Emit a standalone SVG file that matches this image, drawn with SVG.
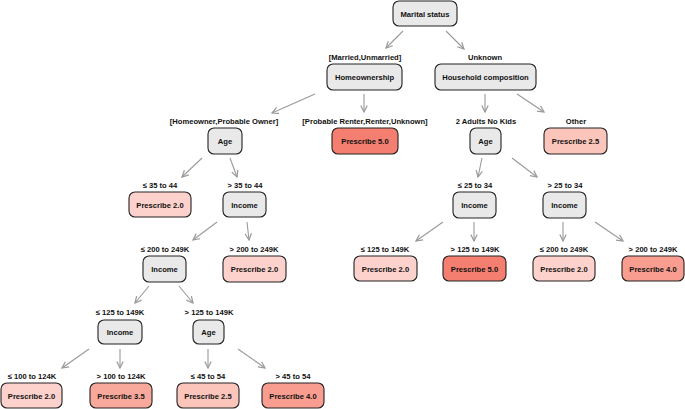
<svg xmlns="http://www.w3.org/2000/svg" width="685" height="409" viewBox="0 0 685 409">
<defs>
<marker id="ah" viewBox="0 0 10 10" refX="9" refY="5" markerWidth="8" markerHeight="8" markerUnits="userSpaceOnUse" orient="auto">
<path d="M1,1 L9,5 L1,9" fill="none" stroke="#999" stroke-width="1.5"/>
</marker>
<style>
rect{stroke:#222;stroke-width:1.1}
.g{fill:#e9e9e9}
.p20{fill:#fdd2cc}
.p25{fill:#fcc5bc}
.p35{fill:#f9a99b}
.p40{fill:#f89d8f}
.p50{fill:#f47e6f}
text{font-family:"Liberation Sans",Arial,sans-serif;font-weight:bold;font-size:7.6px;fill:#111;text-anchor:middle}
.e line{stroke:#999;stroke-width:1.1;marker-end:url(#ah)}
</style>
</defs>
<rect width="685" height="409" fill="#fff" style="stroke:none"/>
<g class="e" id="edges">
<line x1="403" y1="31" x2="386" y2="48"/>
<line x1="446" y1="31" x2="464" y2="49"/>
<line x1="315" y1="94" x2="272" y2="113"/>
<line x1="364" y1="94" x2="364" y2="112"/>
<line x1="485" y1="94" x2="485" y2="112"/>
<line x1="517" y1="94" x2="544" y2="112"/>
<line x1="202" y1="158" x2="182" y2="177"/>
<line x1="230" y1="158" x2="237" y2="177"/>
<line x1="217" y1="222" x2="193" y2="240"/>
<line x1="247" y1="222" x2="249" y2="240"/>
<line x1="149" y1="286" x2="135" y2="303"/>
<line x1="179" y1="286" x2="193" y2="303"/>
<line x1="89" y1="349" x2="62" y2="368"/>
<line x1="120" y1="349" x2="120" y2="368"/>
<line x1="208" y1="349" x2="208" y2="368"/>
<line x1="238" y1="349" x2="265" y2="368"/>
<line x1="482" y1="158" x2="478" y2="177"/>
<line x1="512" y1="158" x2="537" y2="177"/>
<line x1="443" y1="222" x2="416" y2="241"/>
<line x1="474" y1="222" x2="474" y2="241"/>
<line x1="563" y1="222" x2="563" y2="241"/>
<line x1="595" y1="222" x2="623" y2="241"/>
</g>
<g id="n_marital"><rect class="g" x="393" y="1" width="64" height="25" rx="6"/><text x="425" y="16.5">Marital status</text></g>
<g id="n_home"><text x="365" y="60">[Married,Unmarried]</text><rect class="g" x="327" y="64" width="75" height="26" rx="6"/><text x="364.5" y="80">Homeownership</text></g>
<g id="n_house"><text x="485" y="60">Unknown</text><rect class="g" x="435" y="64" width="101" height="26" rx="6"/><text x="485.5" y="80">Household composition</text></g>
<g id="n_p50a"><text x="365" y="124">[Probable Renter,Renter,Unknown]</text><rect class="p50" x="332" y="128" width="66" height="26" rx="6"/><text x="365" y="144">Prescribe 5.0</text></g>
<g id="n_age_r"><text x="486" y="124">2 Adults No Kids</text><rect class="g" x="470" y="128" width="31" height="26" rx="6"/><text x="485.5" y="144">Age</text></g>
<g id="n_p25a"><text x="576" y="124">Other</text><rect class="p25" x="544" y="128" width="63" height="26" rx="6"/><text x="575.5" y="144">Prescribe 2.5</text></g>
<g id="n_age_l"><text x="224" y="124">[Homeowner,Probable Owner]</text><rect class="g" x="208" y="128" width="34" height="26" rx="6"/><text x="225" y="144">Age</text></g>
<g id="n_p20a"><text x="160" y="188">≤ 35 to 44</text><rect class="p20" x="129" y="192" width="62" height="25" rx="6"/><text x="160" y="207.5">Prescribe 2.0</text></g>
<g id="n_inc1"><text x="245" y="188">&gt; 35 to 44</text><rect class="g" x="223" y="192" width="43" height="25" rx="6"/><text x="244.5" y="207.5">Income</text></g>
<g id="n_inc2"><text x="165" y="252">≤ 200 to 249K</text><rect class="g" x="143" y="256" width="43" height="26" rx="6"/><text x="164.5" y="272">Income</text></g>
<g id="n_p20b"><text x="254" y="252">&gt; 200 to 249K</text><rect class="p20" x="223" y="256" width="63" height="26" rx="6"/><text x="254.5" y="272">Prescribe 2.0</text></g>
<g id="n_inc3"><text x="120" y="315">≤ 125 to 149K</text><rect class="g" x="98" y="320" width="44" height="24" rx="6"/><text x="120" y="335">Income</text></g>
<g id="n_age3"><text x="209" y="315">&gt; 125 to 149K</text><rect class="g" x="193" y="320" width="31" height="24" rx="6"/><text x="208.5" y="335">Age</text></g>
<g id="n_p20c"><text x="32" y="379">≤ 100 to 124K</text><rect class="p20" x="1" y="383" width="61" height="25" rx="6"/><text x="31.5" y="398.5">Prescribe 2.0</text></g>
<g id="n_p35"><text x="121" y="379">&gt; 100 to 124K</text><rect class="p35" x="90" y="383" width="62" height="25" rx="6"/><text x="121" y="398.5">Prescribe 3.5</text></g>
<g id="n_p25b"><text x="208" y="379">≤ 45 to 54</text><rect class="p25" x="177" y="383" width="62" height="25" rx="6"/><text x="208" y="398.5">Prescribe 2.5</text></g>
<g id="n_p40a"><text x="293" y="379">&gt; 45 to 54</text><rect class="p40" x="262" y="383" width="62" height="25" rx="6"/><text x="293" y="398.5">Prescribe 4.0</text></g>
<g id="n_inc4"><text x="475" y="188">≤ 25 to 34</text><rect class="g" x="453" y="192" width="43" height="26" rx="6"/><text x="474.5" y="208">Income</text></g>
<g id="n_inc5"><text x="565" y="188">&gt; 25 to 34</text><rect class="g" x="543" y="192" width="43" height="26" rx="6"/><text x="564.5" y="208">Income</text></g>
<g id="n_p20d"><text x="385" y="252">≤ 125 to 149K</text><rect class="p20" x="354" y="256" width="63" height="25" rx="6"/><text x="385.5" y="271.5">Prescribe 2.0</text></g>
<g id="n_p50b"><text x="475" y="252">&gt; 125 to 149K</text><rect class="p50" x="443" y="256" width="63" height="25" rx="6"/><text x="474.5" y="271.5">Prescribe 5.0</text></g>
<g id="n_p20e"><text x="564" y="252">≤ 200 to 249K</text><rect class="p20" x="533" y="256" width="62" height="25" rx="6"/><text x="564" y="271.5">Prescribe 2.0</text></g>
<g id="n_p40b"><text x="653" y="252">&gt; 200 to 249K</text><rect class="p40" x="622" y="256" width="62" height="25" rx="6"/><text x="653" y="271.5">Prescribe 4.0</text></g>
</svg>
